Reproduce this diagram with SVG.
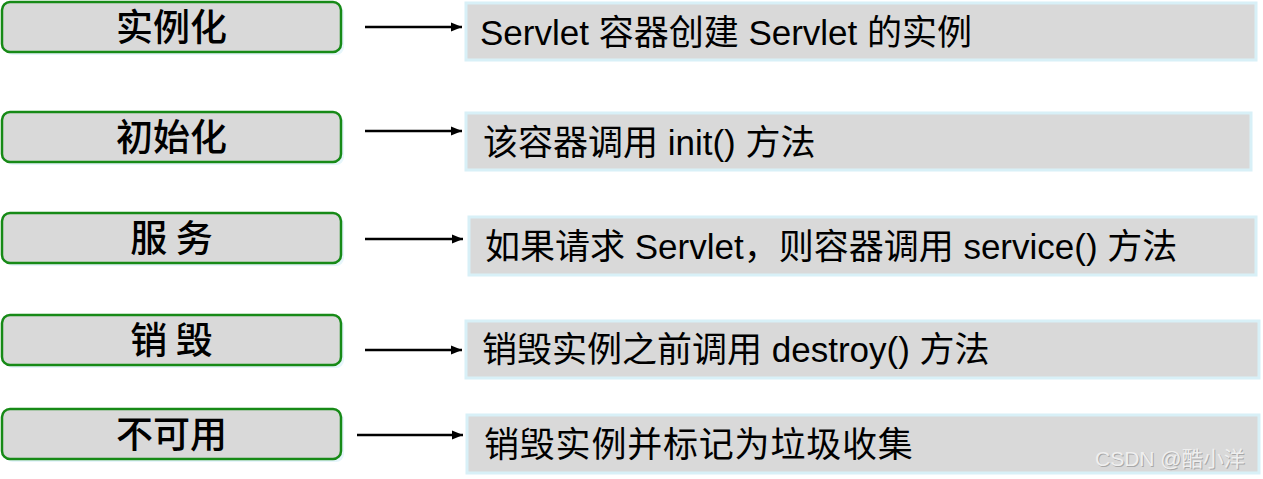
<svg xmlns="http://www.w3.org/2000/svg" width="1263" height="479" viewBox="0 0 1263 479">
<style>
.lb{fill:#d9d9d9;stroke:#178a17;stroke-width:2.5}
.sh{fill:#e6f5fb}
.rb{fill:#d9d9d9;stroke:#d8f0f7;stroke-width:3}
.lt{font-family:"Noto Sans CJK SC","Liberation Sans",sans-serif;font-size:37px;font-weight:500;fill:#000;text-anchor:middle}
.rt{font-family:"Liberation Sans","Noto Sans CJK SC",sans-serif;font-size:35px;fill:#000}
.ar{stroke:#000;stroke-width:2.5;fill:none;marker-end:url(#ah)}
.wm{font-family:"Liberation Sans","Noto Sans CJK SC",sans-serif;font-size:21px}
</style>
<defs>
<marker id="ah" markerWidth="12" markerHeight="12" refX="11" refY="6" orient="auto" markerUnits="userSpaceOnUse">
<path d="M0,1.5 L11,6 L0,10.5 Z" fill="#000"/>
</marker>
</defs>
<rect width="1263" height="479" fill="#fff"/>
<g id="n1">
<rect class="sh" x="5" y="5" width="339" height="50" rx="8"/>
<rect class="lb" x="2" y="2" width="339" height="50" rx="8"/>
<text class="lt" x="171.5" y="41">实例化</text>
</g>
<g id="n2">
<rect class="sh" x="5" y="115" width="339" height="50" rx="8"/>
<rect class="lb" x="2" y="112" width="339" height="50" rx="8"/>
<text class="lt" x="171.5" y="151">初始化</text>
</g>
<g id="n3">
<rect class="sh" x="5" y="216" width="339" height="50" rx="8"/>
<rect class="lb" x="2" y="213" width="339" height="50" rx="8"/>
<text class="lt" x="171.5" y="252">服 务</text>
</g>
<g id="n4">
<rect class="sh" x="5" y="318" width="339" height="50" rx="8"/>
<rect class="lb" x="2" y="315" width="339" height="50" rx="8"/>
<text class="lt" x="171.5" y="354">销 毁</text>
</g>
<g id="n5">
<rect class="sh" x="5" y="412" width="339" height="50" rx="8"/>
<rect class="lb" x="2" y="409" width="339" height="50" rx="8"/>
<text class="lt" x="171.5" y="448">不可用</text>
</g>
<g id="d1">
<rect class="rb" x="466" y="3" width="790" height="57"/>
<text class="rt" x="480" y="45">Servlet 容器创建 Servlet 的实例</text>
</g>
<g id="d2">
<rect class="rb" x="466" y="113" width="785" height="57"/>
<text class="rt" x="483" y="155">该容器调用 init() 方法</text>
</g>
<g id="d3">
<rect class="rb" x="469" y="217" width="787" height="58"/>
<text class="rt" x="485" y="259">如果请求 Servlet，则容器调用 service() 方法</text>
</g>
<g id="d4">
<rect class="rb" x="466" y="321" width="793" height="57"/>
<text class="rt" x="482" y="362">销毁实例之前调用 destroy() 方法</text>
</g>
<g id="d5">
<rect class="rb" x="467" y="415" width="792" height="58"/>
<text class="rt" x="484" y="457" letter-spacing="0.8">销毁实例并标记为垃圾收集</text>
</g>
<g id="connectors">
<line class="ar" x1="365" y1="27" x2="462" y2="27"/>
<line class="ar" x1="365" y1="131" x2="462" y2="131"/>
<line class="ar" x1="365" y1="239" x2="463" y2="239"/>
<line class="ar" x1="365" y1="350" x2="462" y2="350"/>
<line class="ar" x1="357" y1="435" x2="463" y2="435"/>
</g>
<g id="watermark">
<text class="wm" x="1096" y="467" fill="#a8a8a8">CSDN @酷小洋</text>
<text class="wm" x="1095" y="466" fill="#efefef">CSDN @酷小洋</text>
</g>
</svg>
